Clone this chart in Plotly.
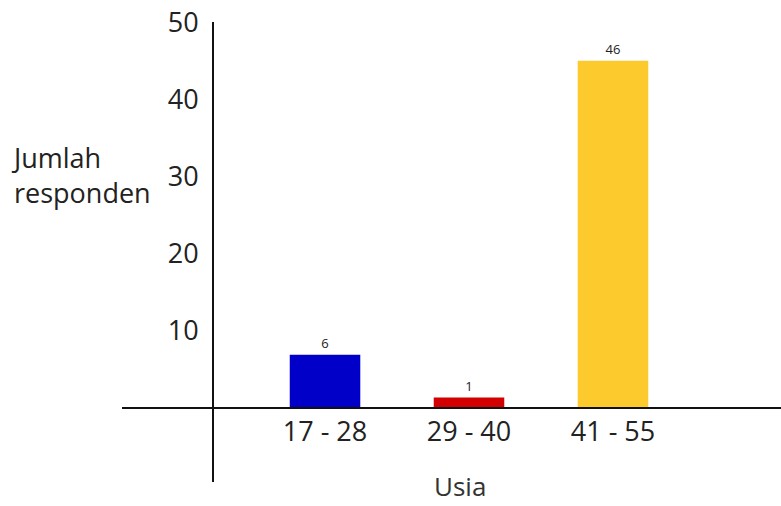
import plotly.graph_objects as go

categories = ["17 - 28", "29 - 40", "41 - 55"]
bar_heights = [6.9, 1.35, 45.1]          # heights as drawn in the picture
bar_labels = ["6", "1", "46"]            # value labels printed on the bars
bar_colors = ["#0000c8", "#d20000", "#fdca2e"]
y_tick_values = [10, 20, 30, 40, 50]

FONT = "Open Sans, Liberation Sans, sans-serif"
TXT = "#222222"

fig = go.Figure(
    go.Bar(
        x=categories,
        y=bar_heights,
        text=bar_labels,
        textposition="outside",
        textfont=dict(size=13, color=TXT, family=FONT),
        cliponaxis=False,
        marker=dict(color=bar_colors, line=dict(width=0)),
        width=0.49,
    )
)

fig.update_layout(
    width=781,
    height=506,
    margin=dict(l=122, r=0, t=22, b=24),
    paper_bgcolor="white",
    plot_bgcolor="white",
    showlegend=False,
    font=dict(family=FONT, color=TXT),
    xaxis=dict(
        type="category",
        range=[-1.41, 3.167],
        anchor="free",
        position=(482 - 408) / 460,
        showline=True,
        linecolor="#111111",
        linewidth=2,
        showgrid=False,
        zeroline=False,
        ticks="",
        tickfont=dict(size=27, color=TXT, family=FONT),
        ticklabelstandoff=0,
    ),
    yaxis=dict(
        range=[-9.61, 50.13],
        anchor="free",
        position=(213 - 122) / 659,
        showline=True,
        linecolor="#111111",
        linewidth=2,
        showgrid=False,
        zeroline=False,
        ticks="",
        tickvals=y_tick_values,
        tickfont=dict(size=27, color=TXT, family=FONT),
        ticklabelstandoff=8,
    ),
    annotations=[
        dict(
            text="Jumlah<br>responden",
            xref="paper", yref="paper",
            x=(9 - 122) / 659, y=(482 - 175) / 460,
            xanchor="left", yanchor="middle", align="left",
            showarrow=False,
            font=dict(size=27, color=TXT, family=FONT),
        ),
        dict(
            text="Usia",
            xref="paper", yref="paper",
            x=(460 - 122) / 659, y=(482 - 506) / 460,
            xanchor="center", yanchor="bottom",
            showarrow=False,
            font=dict(size=26, color="#333333", family=FONT),
        ),
    ],
)

fig.write_html("out.html")
